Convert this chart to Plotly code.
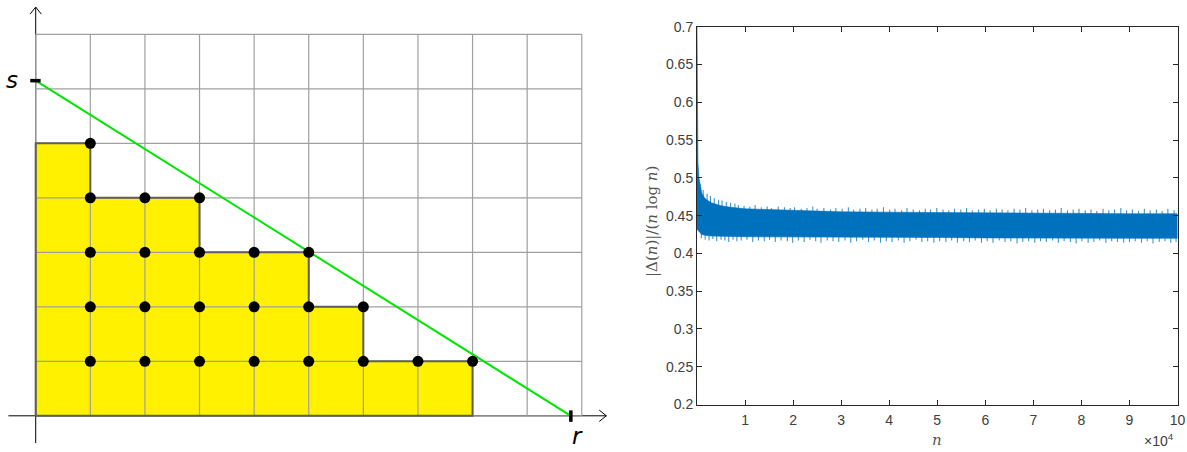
import plotly.graph_objects as go

# ---------------- Left panel data ----------------
col_heights = [5, 4, 4, 3, 3, 2, 1, 1]      # heights of the yellow staircase columns
grid_cols = 10
grid_rows = 7
s_val = 6.15                                 # intercept on vertical axis
r_val = 9.8                                  # intercept on horizontal axis
x_axis_ext = [-0.5, 10.45]
y_axis_ext = [-0.5, 7.5]

# ---------------- Right panel data ----------------
# solid core of the noisy band (upper / lower edges)
core_n = [0, 100, 200, 400, 700, 1000, 1500, 2000, 3000, 4000, 5000, 7000, 10000,
          15000, 20000, 30000, 40000, 50000, 60000, 70000, 80000, 90000, 100000]
core_upper = [0.700, 0.600, 0.520, 0.500, 0.488, 0.480, 0.474, 0.471, 0.467, 0.465,
              0.463, 0.461, 0.459, 0.458, 0.457, 0.455, 0.4545, 0.454, 0.4535, 0.453,
              0.453, 0.4525, 0.4525]
core_lower = [0.432, 0.431, 0.430, 0.429, 0.427, 0.425, 0.424, 0.4235, 0.423, 0.423,
              0.4225, 0.4225, 0.422, 0.422, 0.4215, 0.4215, 0.421, 0.421, 0.4205, 0.4205,
              0.420, 0.420, 0.420]
# upward spikes (n in thousands, tip value)
up_n_k = [0.6, 1.3, 2.1, 2.8, 3.6, 4.5, 5.2, 6.1, 7.0, 7.9, 8.6, 9.8,
          11.0, 12.1, 13.4, 14.6, 15.5, 16.9, 18.2, 19.4,
          20.3, 21.7, 22.9, 24.1, 25.0, 26.4, 27.8, 28.9,
          30.2, 31.5, 32.6, 33.9, 35.1, 36.4, 37.5, 38.8,
          40.1, 41.2, 42.6, 43.7, 45.0, 46.3, 47.5, 48.6, 49.9,
          51.2, 52.4, 53.6, 54.9, 56.1, 57.3, 58.6, 59.8,
          61.0, 62.3, 63.5, 64.7, 66.0, 67.2, 68.4, 69.7,
          70.9, 72.1, 73.4, 74.6, 75.8, 77.1, 78.3, 79.5,
          80.8, 82.0, 83.2, 84.5, 85.7, 86.9, 88.2, 89.4,
          90.6, 91.9, 93.1, 94.3, 95.6, 96.8, 98.0, 99.3]
up_tip = [0.492, 0.484, 0.479, 0.476, 0.473, 0.471, 0.470, 0.468, 0.467, 0.466, 0.464, 0.463,
          0.462, 0.464, 0.461, 0.462, 0.460, 0.462, 0.461, 0.460,
          0.461, 0.459, 0.460, 0.462, 0.459, 0.460, 0.458, 0.460,
          0.459, 0.461, 0.458, 0.459, 0.460, 0.458, 0.459, 0.461,
          0.458, 0.459, 0.457, 0.460, 0.458, 0.457, 0.459, 0.458, 0.460,
          0.458, 0.457, 0.459, 0.458, 0.460, 0.457, 0.458, 0.459,
          0.457, 0.459, 0.458, 0.457, 0.459, 0.458, 0.460, 0.457,
          0.458, 0.459, 0.457, 0.458, 0.460, 0.457, 0.458, 0.459,
          0.457, 0.458, 0.456, 0.459, 0.457, 0.458, 0.460, 0.457,
          0.458, 0.456, 0.459, 0.457, 0.458, 0.456, 0.459, 0.457]
# downward spikes (n in thousands, tip value)
down_n_k = [0.9, 1.7, 2.5, 3.3, 4.1, 5.0, 5.8, 6.6, 7.5, 8.3, 9.2,
            10.4, 11.6, 12.8, 14.0, 15.1, 16.3, 17.5, 18.8, 19.9,
            21.1, 22.3, 23.5, 24.7, 25.8, 27.1, 28.3, 29.5,
            30.8, 32.0, 33.2, 34.5, 35.7, 36.9, 38.2, 39.4,
            40.6, 41.9, 43.1, 44.3, 45.6, 46.8, 48.0, 49.3,
            50.5, 51.8, 53.0, 54.2, 55.5, 56.7, 57.9, 59.2,
            60.4, 61.6, 62.9, 64.1, 65.3, 66.6, 67.8, 69.0,
            70.3, 71.5, 72.7, 74.0, 75.2, 76.4, 77.7, 78.9,
            80.1, 81.4, 82.6, 83.8, 85.1, 86.3, 87.5, 88.8,
            90.0, 91.2, 92.5, 93.7, 94.9, 96.2, 97.4, 98.6, 99.7]
down_tip = [0.420, 0.418, 0.417, 0.419, 0.416, 0.418, 0.417, 0.415, 0.418, 0.416, 0.417,
            0.418, 0.415, 0.417, 0.416, 0.418, 0.415, 0.417, 0.416, 0.414,
            0.417, 0.415, 0.418, 0.416, 0.414, 0.417, 0.416, 0.415,
            0.417, 0.414, 0.416, 0.418, 0.415, 0.417, 0.414, 0.416,
            0.415, 0.417, 0.414, 0.416, 0.418, 0.415, 0.416, 0.414,
            0.416, 0.415, 0.417, 0.414, 0.416, 0.415, 0.417, 0.414,
            0.416, 0.414, 0.417, 0.415, 0.416, 0.413, 0.415, 0.416,
            0.414, 0.416, 0.415, 0.417, 0.414, 0.416, 0.415, 0.413,
            0.416, 0.414, 0.415, 0.417, 0.414, 0.416, 0.415, 0.414,
            0.415, 0.416, 0.414, 0.416, 0.413, 0.415, 0.416, 0.414, 0.415]
up_base = 0.445
down_base = 0.430

x_tick_vals = [10000 * k for k in range(1, 11)]
x_tick_text = [str(k) for k in range(1, 11)]
y_tick_vals = [0.2, 0.25, 0.3, 0.35, 0.4, 0.45, 0.5, 0.55, 0.6, 0.65, 0.7]
y_tick_text = ["0.2", "0.25", "0.3", "0.35", "0.4", "0.45", "0.5", "0.55", "0.6", "0.65", "0.7"]

W, H = 1187, 452
BLUE = "#0072BD"
fig = go.Figure()

# ---- staircase polygon ----
sx, sy = [0], [0]
for i, h in enumerate(col_heights):
    sx += [i, i + 1]
    sy += [h, h]
sx += [len(col_heights), 0]
sy += [0, 0]
fig.add_trace(go.Scatter(x=sx, y=sy, fill="toself", fillcolor="#FFF100",
                         line=dict(width=0), mode="lines", hoverinfo="skip",
                         xaxis="x", yaxis="y"))

# ---- axes lines (black) ----
fig.add_trace(go.Scatter(x=x_axis_ext, y=[0, 0], mode="lines",
                         line=dict(color="black", width=1), xaxis="x", yaxis="y"))
fig.add_trace(go.Scatter(x=[0, 0], y=y_axis_ext, mode="lines",
                         line=dict(color="black", width=1), xaxis="x", yaxis="y"))
ah = 0.13
fig.add_trace(go.Scatter(x=[x_axis_ext[1] - ah, x_axis_ext[1], x_axis_ext[1] - ah],
                         y=[ah * 0.8, 0, -ah * 0.8], mode="lines",
                         line=dict(color="black", width=1), xaxis="x", yaxis="y"))
fig.add_trace(go.Scatter(x=[-ah * 0.8, 0, ah * 0.8],
                         y=[y_axis_ext[1] - ah, y_axis_ext[1], y_axis_ext[1] - ah], mode="lines",
                         line=dict(color="black", width=1), xaxis="x", yaxis="y"))

# ---- grid ----
gx, gy = [], []
for c in range(grid_cols + 1):
    gx += [c, c, None]
    gy += [0, grid_rows, None]
for rr in range(grid_rows + 1):
    gx += [0, grid_cols, None]
    gy += [rr, rr, None]
fig.add_trace(go.Scatter(x=gx, y=gy, mode="lines",
                         line=dict(color="#A0A0A0", width=1.2), xaxis="x", yaxis="y"))

# ---- staircase outline ----
fig.add_trace(go.Scatter(x=sx, y=sy, mode="lines",
                         line=dict(color="#5E5E5E", width=2), xaxis="x", yaxis="y"))

# ---- green line ----
fig.add_trace(go.Scatter(x=[0, r_val], y=[s_val, 0], mode="lines",
                         line=dict(color="#00E600", width=2), xaxis="x", yaxis="y"))

# ---- tick marks at s and r ----
fig.add_trace(go.Scatter(x=[-0.1, 0.09], y=[s_val, s_val], mode="lines",
                         line=dict(color="black", width=3.5), xaxis="x", yaxis="y"))
fig.add_trace(go.Scatter(x=[r_val, r_val], y=[-0.11, 0.1], mode="lines",
                         line=dict(color="black", width=3.5), xaxis="x", yaxis="y"))

# ---- lattice dots ----
dx, dy = [], []
for i, h in enumerate(col_heights):
    for j in range(1, h + 1):
        dx.append(i + 1)
        dy.append(j)
fig.add_trace(go.Scatter(x=dx, y=dy, mode="markers",
                         marker=dict(color="black", size=11), xaxis="x", yaxis="y"))

# ---- right panel band: solid core ----
fig.add_trace(go.Scatter(x=core_n + core_n[::-1], y=core_upper + core_lower[::-1],
                         fill="toself", fillcolor=BLUE, mode="lines",
                         line=dict(color=BLUE, width=0.6), xaxis="x2", yaxis="y2"))
# ---- spikes ----
spx, spy = [], []
for nk, tip in zip(up_n_k, up_tip):
    spx += [nk * 1000, nk * 1000, None]
    spy += [up_base, tip, None]
for nk, tip in zip(down_n_k, down_tip):
    spx += [nk * 1000, nk * 1000, None]
    spy += [down_base, tip, None]
fig.add_trace(go.Scatter(x=spx, y=spy, mode="lines",
                         line=dict(color=BLUE, width=1.1), opacity=0.75,
                         xaxis="x2", yaxis="y2"))

ax_style = dict(showline=True, linecolor="#262626", linewidth=1, mirror="allticks",
                ticks="inside", ticklen=5, tickcolor="#262626", showgrid=False,
                zeroline=False, tickfont=dict(family="Liberation Sans", size=14, color="#404040"))

ann_common = dict(xref="paper", yref="paper", showarrow=False,
                  xanchor="center", yanchor="middle")

fig.update_layout(
    width=W, height=H, margin=dict(l=0, r=0, t=0, b=0, autoexpand=False),
    paper_bgcolor="white", plot_bgcolor="white", showlegend=False,
    xaxis=dict(domain=[0, 620 / W], range=[-0.654, 10.70], visible=False),
    yaxis=dict(domain=[0, 1], range=[-0.664, 7.63], visible=False),
    xaxis2=dict(domain=[697 / W, 1177.5 / W], range=[0, 100000], anchor="y2",
                tickvals=x_tick_vals, ticktext=x_tick_text, ticklabelstandoff=3, **ax_style),
    yaxis2=dict(domain=[1 - 404.5 / H, 1 - 26.7 / H], range=[0.2, 0.7], anchor="x2",
                tickvals=y_tick_vals, ticktext=y_tick_text, **ax_style),
    annotations=[
        dict(text="<i>s</i>", x=12 / W, y=1 - 80 / H,
             font=dict(family="DejaVu Sans", size=23, color="black"), **ann_common),
        dict(text="<i>r</i>", x=577 / W, y=1 - 436 / H,
             font=dict(family="DejaVu Sans", size=23, color="black"), **ann_common),
        dict(text="|Δ(<i>n</i>)|/(<i>n</i> log <i>n</i>)", x=652 / W, y=1 - 222 / H,
             textangle=-90,
             font=dict(family="DejaVu Serif", size=15, color="#555555"), **ann_common),
        dict(text="<i>n</i>", x=937 / W, y=1 - 440 / H,
             font=dict(family="DejaVu Serif", size=15, color="#555555"), **ann_common),
        dict(text="×10<sup>4</sup>", x=1159 / W, y=1 - 440 / H,
             font=dict(family="Liberation Sans", size=14, color="#404040"), **ann_common),
    ],
)

fig.write_html("out.html", config={"displayModeBar": False},
               post_script="document.body.style.margin='0px';")
